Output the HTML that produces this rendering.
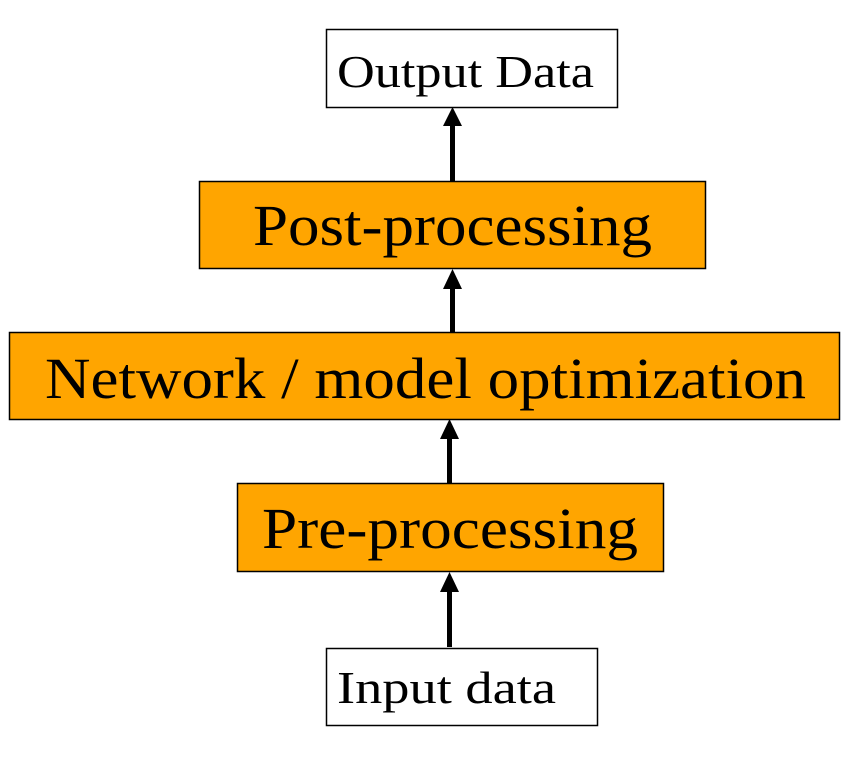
<!DOCTYPE html>
<html><head><meta charset="utf-8"><style>html,body{margin:0;padding:0;background:#fff}svg{display:block}</style></head>
<body>
<svg width="853" height="758" viewBox="0 0 853 758" xmlns="http://www.w3.org/2000/svg" font-family="'Liberation Serif', serif">
<g stroke="#000" stroke-width="1.5">
<rect x="326.5" y="29.5" width="291" height="78" fill="#fff"/>
<rect x="199.5" y="181.5" width="506" height="87" fill="#FFA500"/>
<rect x="9.5" y="332.5" width="830" height="87" fill="#FFA500"/>
<rect x="237.5" y="483.5" width="426" height="88" fill="#FFA500"/>
<rect x="326.5" y="648.5" width="271" height="77" fill="#fff"/>
</g>
<g fill="#000">
<rect x="450" y="124" width="5" height="57"/><polygon points="452.5,107 443,126 462,126"/>
<rect x="450" y="287" width="5" height="45"/><polygon points="452.5,269 443,289 462,289"/>
<rect x="447" y="437" width="5" height="46"/><polygon points="449.5,419 440,439 459,439"/>
<rect x="447" y="590" width="5" height="57"/><polygon points="449.5,572 440,592 459,592"/>
</g>
<g fill="#000">
<text x="337" y="87" font-size="46" textLength="257" lengthAdjust="spacingAndGlyphs">Output Data</text>
<text x="253" y="245" font-size="58" textLength="399" lengthAdjust="spacingAndGlyphs">Post-processing</text>
<text x="45" y="398" font-size="58" textLength="761" lengthAdjust="spacingAndGlyphs">Network / model optimization</text>
<text x="262" y="548" font-size="58" textLength="376" lengthAdjust="spacingAndGlyphs">Pre-processing</text>
<text x="337" y="703" font-size="46" textLength="219" lengthAdjust="spacingAndGlyphs">Input data</text>
</g>
</svg>
</body></html>
